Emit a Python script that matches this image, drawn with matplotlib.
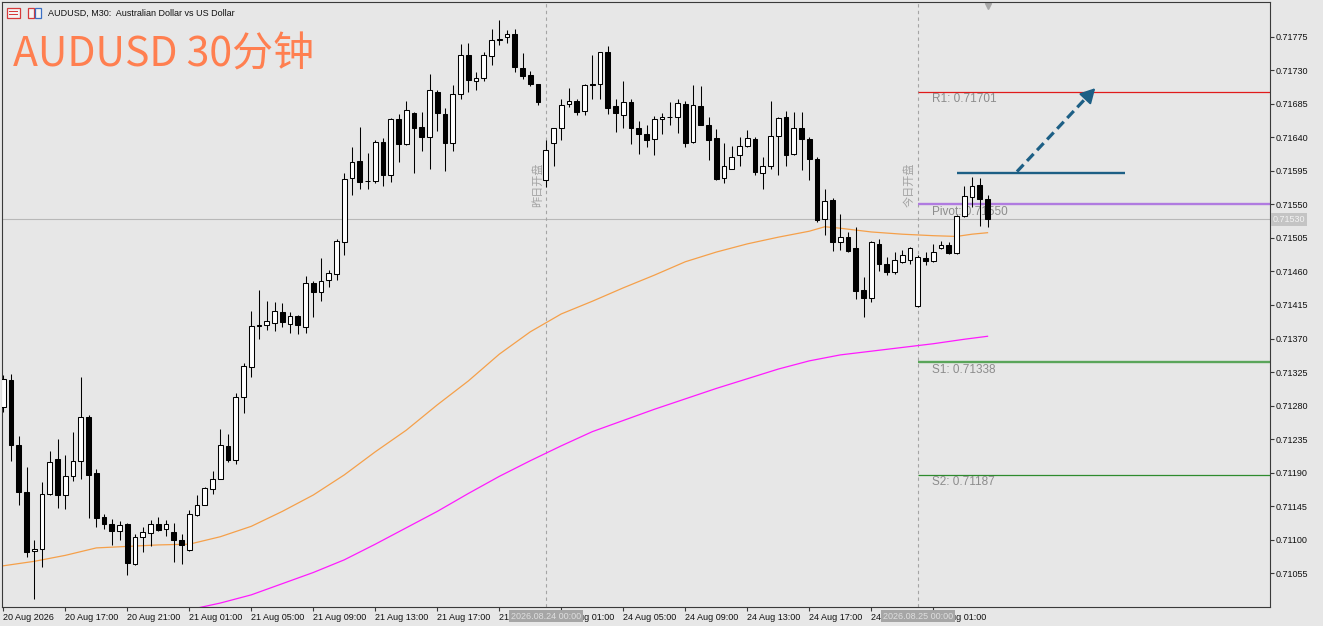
import matplotlib.pyplot as plt
import matplotlib.transforms as mtransforms
from matplotlib.patches import Rectangle, Polygon

# ---- candle data (AUDUSD M30), bar 0 = 20 Aug 13:00 ----
opens = [0.71278, 0.71314, 0.71227, 0.71164, 0.71085, 0.71087, 0.71162, 0.71208, 0.71160, 0.71186,
         0.71205, 0.71265, 0.71189, 0.71130, 0.71121, 0.71112, 0.71121, 0.71068, 0.71104, 0.71109,
         0.71121, 0.71114, 0.71111, 0.71100, 0.71086, 0.71133, 0.71147, 0.71168, 0.71182, 0.71226,
         0.71207, 0.71292, 0.71332, 0.71387, 0.71388, 0.71391, 0.71406, 0.71389, 0.71400, 0.71386,
         0.71445, 0.71433, 0.71448, 0.71457, 0.71500, 0.71586, 0.71608, 0.71581, 0.71582, 0.71634,
         0.71590, 0.71665, 0.71631, 0.71672, 0.71654, 0.71640, 0.71701, 0.71671, 0.71633, 0.71698,
         0.71750, 0.71716, 0.71719, 0.71749, 0.71771, 0.71774, 0.71779, 0.71733, 0.71723, 0.71711,
         0.71583, 0.71633, 0.71652, 0.71685, 0.71689, 0.71675, 0.71712, 0.71711, 0.71755, 0.71682,
         0.71670, 0.71687, 0.71653, 0.71644, 0.71638, 0.71665, 0.71667, 0.71667, 0.71685, 0.71634,
         0.71682, 0.71657, 0.71639, 0.71585, 0.71598, 0.71616, 0.71629, 0.71638, 0.71592, 0.71601,
         0.71642, 0.71667, 0.71617, 0.71653, 0.71638, 0.71611, 0.71530, 0.71556, 0.71500, 0.71506,
         0.71491, 0.71435, 0.71424, 0.71497, 0.71470, 0.71459, 0.71473, 0.71476, 0.71413, 0.71478,
         0.71474, 0.71491, 0.71495, 0.71485, 0.71534, 0.71560, 0.71576, 0.71557]
highs = [0.71321, 0.71322, 0.71239, 0.71197, 0.71100, 0.71178, 0.71219, 0.71235, 0.71214, 0.71244,
         0.71319, 0.71268, 0.71195, 0.71134, 0.71128, 0.71125, 0.71122, 0.71108, 0.71117, 0.71126,
         0.71130, 0.71126, 0.71122, 0.71107, 0.71140, 0.71160, 0.71171, 0.71192, 0.71248, 0.71242,
         0.71297, 0.71337, 0.71407, 0.71435, 0.71420, 0.71419, 0.71417, 0.71406, 0.71402, 0.71454,
         0.71447, 0.71478, 0.71462, 0.71504, 0.71592, 0.71627, 0.71654, 0.71619, 0.71636, 0.71639,
         0.71666, 0.71671, 0.71689, 0.71674, 0.71674, 0.71725, 0.71704, 0.71680, 0.71710, 0.71765,
         0.71767, 0.71728, 0.71754, 0.71785, 0.71797, 0.71784, 0.71786, 0.71753, 0.71729, 0.71712,
         0.71636, 0.71653, 0.71692, 0.71706, 0.71691, 0.71712, 0.71751, 0.71755, 0.71763, 0.71692,
         0.71715, 0.71692, 0.71662, 0.71657, 0.71669, 0.71673, 0.71688, 0.71692, 0.71689, 0.71710,
         0.71709, 0.71667, 0.71651, 0.71633, 0.71628, 0.71641, 0.71650, 0.71640, 0.71613, 0.71689,
         0.71667, 0.71675, 0.71674, 0.71674, 0.71640, 0.71614, 0.71571, 0.71558, 0.71537, 0.71513,
         0.71520, 0.71452, 0.71501, 0.71503, 0.71480, 0.71486, 0.71489, 0.71493, 0.71482, 0.71486,
         0.71497, 0.71501, 0.71500, 0.71536, 0.71575, 0.71587, 0.71585, 0.71563]
lows = [0.71271, 0.71206, 0.71147, 0.71077, 0.71021, 0.71064, 0.71160, 0.71143, 0.71141, 0.71179,
        0.71182, 0.71129, 0.71117, 0.71114, 0.71093, 0.71099, 0.71052, 0.71066, 0.71083, 0.71091,
        0.71112, 0.71105, 0.71070, 0.71068, 0.71085, 0.71132, 0.71146, 0.71161, 0.71181, 0.71204,
        0.71201, 0.71270, 0.71319, 0.71370, 0.71382, 0.71380, 0.71386, 0.71377, 0.71376, 0.71377,
        0.71399, 0.71420, 0.71439, 0.71448, 0.71482, 0.71563, 0.71570, 0.71571, 0.71579, 0.71575,
        0.71580, 0.71607, 0.71630, 0.71592, 0.71622, 0.71597, 0.71648, 0.71595, 0.71622, 0.71692,
        0.71701, 0.71703, 0.71715, 0.71737, 0.71764, 0.71766, 0.71728, 0.71718, 0.71709, 0.71683,
        0.71574, 0.71601, 0.71637, 0.71681, 0.71670, 0.71670, 0.71692, 0.71692, 0.71671, 0.71647,
        0.71653, 0.71631, 0.71617, 0.71627, 0.71616, 0.71645, 0.71657, 0.71646, 0.71627, 0.71633,
        0.71656, 0.71610, 0.71583, 0.71579, 0.71597, 0.71601, 0.71627, 0.71589, 0.71570, 0.71597,
        0.71589, 0.71601, 0.71616, 0.71596, 0.71583, 0.71527, 0.71509, 0.71488, 0.71489, 0.71486,
        0.71423, 0.71399, 0.71419, 0.71460, 0.71455, 0.71457, 0.71471, 0.71470, 0.71412, 0.71469,
        0.71473, 0.71490, 0.71484, 0.71484, 0.71533, 0.71547, 0.71521, 0.71520]
closes = [0.71315, 0.71227, 0.71164, 0.71083, 0.71087, 0.71161, 0.71204, 0.71160, 0.71185, 0.71205,
          0.71265, 0.71187, 0.71129, 0.71121, 0.71112, 0.71120, 0.71069, 0.71104, 0.71110, 0.71121,
          0.71113, 0.71121, 0.71099, 0.71093, 0.71134, 0.71147, 0.71169, 0.71182, 0.71227, 0.71207,
          0.71291, 0.71333, 0.71387, 0.71388, 0.71393, 0.71407, 0.71392, 0.71400, 0.71388, 0.71444,
          0.71432, 0.71447, 0.71458, 0.71501, 0.71584, 0.71607, 0.71580, 0.71582, 0.71634, 0.71589,
          0.71664, 0.71631, 0.71676, 0.71653, 0.71640, 0.71703, 0.71673, 0.71632, 0.71698, 0.71751,
          0.71717, 0.71719, 0.71750, 0.71771, 0.71772, 0.71778, 0.71734, 0.71722, 0.71712, 0.71687,
          0.71623, 0.71652, 0.71683, 0.71689, 0.71674, 0.71710, 0.71710, 0.71754, 0.71680, 0.71672,
          0.71687, 0.71652, 0.71644, 0.71637, 0.71665, 0.71667, 0.71667, 0.71686, 0.71633, 0.71683,
          0.71657, 0.71636, 0.71584, 0.71601, 0.71613, 0.71629, 0.71639, 0.71593, 0.71601, 0.71642,
          0.71666, 0.71616, 0.71653, 0.71638, 0.71611, 0.71529, 0.71554, 0.71499, 0.71506, 0.71488,
          0.71434, 0.71425, 0.71499, 0.71470, 0.71459, 0.71475, 0.71482, 0.71491, 0.71479, 0.71474,
          0.71486, 0.71495, 0.71485, 0.71535, 0.71561, 0.71575, 0.71557, 0.71530]

# moving averages read at selected bars
ma_fast_bars = [0, 4, 8, 12, 16, 20, 24, 28, 32, 36, 40, 44, 48, 52, 56, 60, 64, 68, 72, 76, 80,
                84, 88, 92, 96, 100, 104, 106, 108, 112, 116, 120, 123, 125, 127]
ma_fast = [0.71065, 0.71071, 0.71079, 0.71089, 0.71091, 0.71093, 0.71094, 0.71104, 0.71118, 0.71138,
           0.71160, 0.71187, 0.71218, 0.71247, 0.71281, 0.71313, 0.71349, 0.71379, 0.71403, 0.71420,
           0.71438, 0.71455, 0.71473, 0.71486, 0.71497, 0.71506, 0.71514, 0.71520, 0.71518, 0.71513,
           0.71510, 0.71508, 0.71507, 0.71510, 0.71512]
ma_slow_bars = [24, 28, 32, 36, 40, 44, 48, 52, 56, 60, 64, 68, 72, 76, 80, 84, 88, 92, 96, 100,
                104, 108, 112, 116, 120, 124, 127]
ma_slow = [0.71006, 0.71015, 0.71026, 0.71041, 0.71056, 0.71073, 0.71094, 0.71116, 0.71138, 0.71162,
           0.71185, 0.71206, 0.71226, 0.71245, 0.71260, 0.71275, 0.71289, 0.71303, 0.71316, 0.71329,
           0.71340, 0.71348, 0.71353, 0.71358, 0.71363, 0.71369, 0.71373]

tick_bars = [0, 8, 16, 24, 32, 40, 48, 56, 64, 72, 80, 88, 96, 104, 112, 120]
tick_labels = ['20 Aug 2026', '20 Aug 17:00', '20 Aug 21:00', '21 Aug 01:00', '21 Aug 05:00',
               '21 Aug 09:00', '21 Aug 13:00', '21 Aug 17:00', '21 Aug 21:00', '24 Aug 01:00',
               '24 Aug 05:00', '24 Aug 09:00', '24 Aug 13:00', '24 Aug 17:00', '24 Aug 21:00',
               '25 Aug 01:00']
price_ticks = [0.71055, 0.71100, 0.71145, 0.71190, 0.71235, 0.71280, 0.71325, 0.71370, 0.71415,
               0.71460, 0.71505, 0.71550, 0.71595, 0.71640, 0.71685, 0.71730, 0.71775]

day_open_bars = [70, 118]
day_open_stamps = ['2026.08.24 00:00', '2026.08.25 00:00']
day_open_names = ['昨日开盘', '今日开盘']

level_names = ['R1', 'Pivot', 'S1', 'S2']
level_values = [0.71701, 0.71550, 0.71338, 0.71187]
level_colors = ['#e01b1b', '#b07be0', '#5aa55a', '#2e8b2e']
level_widths = [0.9, 1.7, 1.7, 0.9]

last_price = 0.71530
breakout_level = 0.71592

plt.rcParams['font.family'] = ['Liberation Sans', 'Noto Sans CJK SC', 'DejaVu Sans']

W, H = 1323, 626
bg = '#e7e7e7'
fig = plt.figure(figsize=(W / 100, H / 100), dpi=100, facecolor=bg)
ax = fig.add_axes([2 / W, (H - 606.7) / H, 1268 / W, 604.7 / H], facecolor=bg)
ax.set_xlim(-0.17, 163.45)
ax.set_ylim(0.710101, 0.718216)

# current price line and day separators
ax.axhline(last_price, color='#b8b8b8', lw=0.8, zorder=1)
for b in day_open_bars:
    ax.axvline(b, color='#a4a4a4', lw=0.8, ls=(0, (3, 3)), zorder=1)

# moving averages
ax.plot(ma_fast_bars, ma_fast, color='#f5a04a', lw=0.9, zorder=2)
ax.plot(ma_slow_bars, ma_slow, color='#ff1aff', lw=0.9, zorder=2)

# pivot levels from today's open to the right edge
for name, val, col, lw in zip(level_names, level_values, level_colors, level_widths):
    ax.hlines(val, day_open_bars[1], 163.45, color=col, lw=lw, zorder=2)
    ax.annotate(f'{name}: {val:.5f}', xy=(day_open_bars[1], val), xytext=(10.3, -5.3),
                textcoords='offset points', ha='left', va='center', fontsize=8.5,
                color='#8c8c8c', zorder=3)

# candles
x = list(range(len(opens)))
ax.vlines(x, lows, highs, color='black', lw=0.75, zorder=4)
bottoms = [min(o, c) for o, c in zip(opens, closes)]
heights = [abs(c - o) for o, c in zip(opens, closes)]
faces = ['white' if c >= o else 'black' for o, c in zip(opens, closes)]
ax.bar(x, heights, bottom=bottoms, width=0.62, color=faces, edgecolor='black',
       linewidth=0.75, zorder=5)

# breakout line and dashed arrow
blue = '#1d5f85'
ax.hlines(breakout_level, 123.1, 144.7, color=blue, lw=1.7, zorder=6)
a0 = (130.8, 0.71594)
a1 = (140.9, 0.71706)
k = 0.9
base = (a0[0] + k * (a1[0] - a0[0]), a0[1] + k * (a1[1] - a0[1]))
ax.plot([a0[0], base[0]], [a0[1], base[1]], color=blue, lw=2.3, ls=(0, (3, 1.6)),
        solid_capstyle='butt', zorder=6)
ax.annotate('', xy=a1, xytext=base,
            arrowprops=dict(arrowstyle='-|>,head_length=0.55,head_width=0.3', color=blue,
                            lw=1.5, shrinkA=0, shrinkB=0, mutation_scale=16), zorder=6)

# vertical day-open captions
for b, name, off in zip(day_open_bars, day_open_names, [-1.0, -1.1]):
    ax.text(b + off, 0.71547, name, rotation=90, ha='center', va='bottom', fontsize=8,
            color='#a2a2a2', family=['Noto Sans CJK SC', 'DejaVu Sans'], zorder=3)

# axes styling
for s in ax.spines.values():
    s.set_color('#3a3a3a')
    s.set_linewidth(0.8)
ax.set_xticks(tick_bars)
ax.set_xticklabels(tick_labels)
for lab in ax.get_xticklabels():
    lab.set_ha('left')
ax.tick_params(axis='x', direction='out', length=3, width=0.8, color='#3a3a3a',
               labelsize=6.5, pad=1.5, labelcolor='#111111')
ax.yaxis.tick_right()
ax.set_yticks(price_ticks)
ax.set_yticklabels([f'{p:.5f}' for p in price_ticks])
ax.tick_params(axis='y', direction='out', length=3, width=0.8, color='#3a3a3a',
               labelsize=6.5, pad=1, labelcolor='#111111')

# date stamps on the time axis
xb = mtransforms.blended_transform_factory(ax.transData, ax.transAxes)
for b, stamp in zip(day_open_bars, day_open_stamps):
    ax.text(b, -0.0155, stamp, transform=xb, ha='center', va='center', fontsize=6.5,
            color='#dedede', clip_on=False, zorder=10,
            bbox=dict(boxstyle='square,pad=0.2', fc='#a6a6a6', ec='none'))

# last price box on the price axis
yb = mtransforms.blended_transform_factory(ax.transAxes, ax.transData)
ax.text(1.0022, last_price, f'{last_price:.5f}', transform=yb, ha='left', va='center',
        fontsize=6.5, color='#f2f2f2', clip_on=False, zorder=10,
        bbox=dict(boxstyle='square,pad=0.2', fc='#c4c4c4', ec='none'))

# chart shift marker
ax.plot([127.1], [0.994], transform=xb, marker='v', ms=5, color='#a8a8a8', clip_on=False)

# header: small icons, symbol caption and big title
def px_rect(x0, y0, w, h, **kw):
    fig.add_artist(Rectangle((x0 / W, 1 - (y0 + h) / H), w / W, h / H,
                             transform=fig.transFigure, **kw))

px_rect(7, 8, 13, 10, fc='#f4f4f4', ec='#d63a3a', lw=0.9)
px_rect(9, 11, 9, 1.2, fc='#d63a3a', ec='none')
px_rect(9, 14, 9, 1.2, fc='#d63a3a', ec='none')
px_rect(28, 8, 6, 10, fc='#f4f4f4', ec='#d63a3a', lw=0.9)
px_rect(35, 8, 6, 10, fc='#f4f4f4', ec='#3a6fc4', lw=0.9)
fig.text(48 / W, 1 - 13.5 / H, 'AUDUSD, M30:  Australian Dollar vs US Dollar', fontsize=6.5,
         ha='left', va='center', color='#111111')
fig.text(13 / W, 1 - 66 / H, 'AUDUSD 30分钟', fontsize=29.5, ha='left', va='baseline',
         color='#ff7f50', family=['Noto Sans CJK SC', 'DejaVu Sans'])

fig.savefig('out.png', dpi=100, facecolor=bg)
